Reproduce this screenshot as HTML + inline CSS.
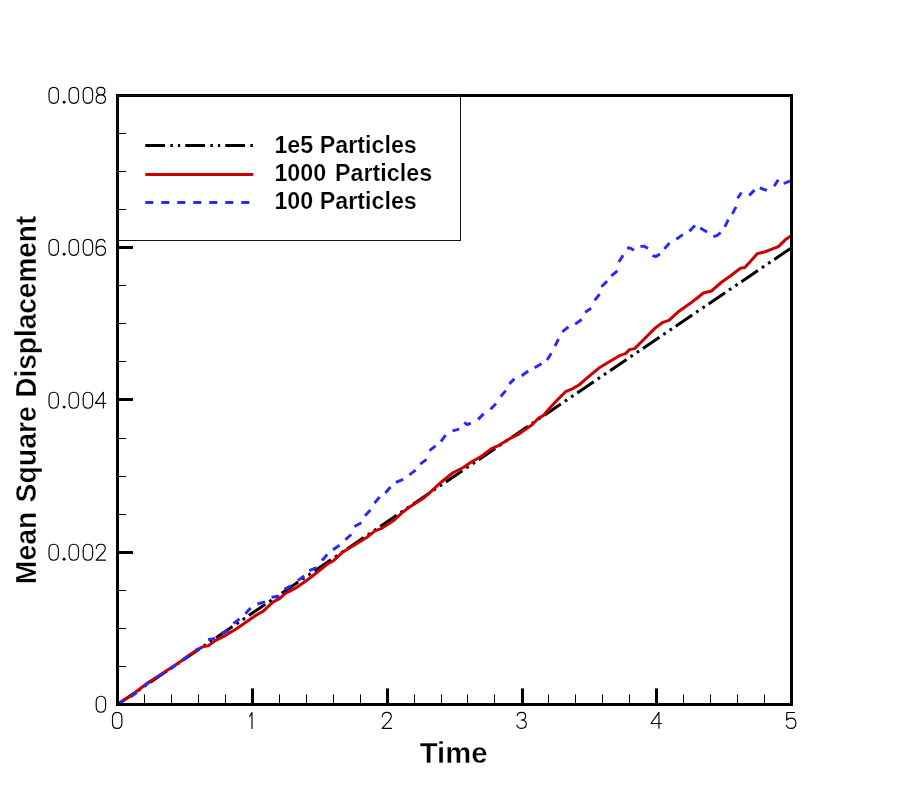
<!DOCTYPE html>
<html><head><meta charset="utf-8"><title>Mean Square Displacement</title>
<style>html,body{margin:0;padding:0;background:#fff;}svg{display:block;}text{font-family:"Liberation Sans",sans-serif;font-weight:bold;fill:#000;}</style></head>
<body>
<svg width="900" height="792" viewBox="0 0 900 792">
<rect width="900" height="792" fill="#fff"/>
<g fill="none" stroke-width="3" stroke-linejoin="round">
<line x1="117.5" y1="704.5" x2="790.5" y2="248.4" stroke="#000" stroke-dasharray="19.9 4.75 2.8 4.8 2.8 4.62"/>
<polyline stroke="#cc0000" points="117.5,704.5 131.7,695.0 148.3,682.5 165.0,671.7 181.7,660.8 190.0,654.5 198.6,649.0 203.4,646.5 208.3,645.7 215.7,640.4 224.2,636.1 236.5,628.8 248.7,620.2 256.0,615.3 263.3,611.1 273.1,601.9 279.2,598.8 285.4,593.3 295.1,588.4 308.3,579.2 320.0,570.0 328.3,563.3 333.3,560.8 343.3,551.7 353.3,545.8 366.7,537.5 375.0,530.8 381.7,528.3 393.3,520.8 403.3,511.7 410.0,506.7 423.3,498.3 431.7,490.8 441.7,481.7 453.3,472.5 463.3,467.5 471.7,461.7 480.5,456.9 491.1,448.9 498.9,445.3 510.0,438.5 518.9,434.1 526.7,428.6 532.2,424.8 538.9,417.8 543.3,415.6 550.0,407.8 557.8,399.4 565.6,391.7 572.2,388.9 579.0,385.0 587.1,377.9 599.2,367.8 609.3,361.7 619.4,355.7 625.5,353.6 629.5,349.6 634.6,348.6 644.7,338.5 654.8,328.4 662.9,322.3 668.9,320.3 679.0,311.2 689.2,304.1 697.2,298.0 703.3,293.0 711.4,291.0 721.8,282.0 730.7,275.8 740.4,268.2 744.8,267.5 750.1,261.7 757.2,253.7 764.3,252.0 771.3,249.3 778.4,246.6 785.5,239.6 790.5,236.2"/>
<path stroke="#2828ff" stroke-width="2.9" d="M118.3,703.6 L124.2,700.0 M130.8,696.7 L136.7,692.5 M144.2,685.8 L150.0,681.7 M156.7,677.5 L163.3,673.3 M170.0,669.2 L175.8,665.0 M182.5,660.0 L189.2,655.8 M195.5,650.4 L202.2,647.2 M208.0,639.6 L215.1,638.4 M221.3,633.3 L228.5,630.4 M233.4,623.3 L239.6,618.8 M245.4,613.7 L250.6,608.1 M257.4,604.0 L265.0,601.9 M271.6,597.2 L279.4,596.4 M284.2,589.3 L291.2,585.8 M297.8,580.6 L304.2,575.8 M309.3,570.7 L316.6,567.6 M322.0,560.5 L327.2,554.5 M333.0,549.7 L339.5,545.3 M345.4,539.7 L351.3,534.5 M354.5,526.5 L361.4,522.7 M365.0,515.8 L370.4,510.0 M374.5,503.0 L379.7,497.0 M385.3,493.0 L390.5,487.0 M395.9,482.4 L403.2,479.3 M409.4,474.9 L415.6,470.1 M420.2,464.1 L426.5,459.3 M429.4,450.7 L435.6,445.9 M440.9,441.5 L445.7,435.2 M452.5,430.8 L459.2,429.2 M464.2,422.3 L467.2,424.6 L470.8,423.2 M478.1,419.4 L483.6,413.9 M490.5,409.2 L496.0,403.7 M500.7,396.5 L505.8,390.6 M509.3,383.9 L514.3,378.9 M521.7,375.7 L528.2,371.0 M534.6,367.7 L541.5,363.8 M547.1,360.0 L551.3,353.3 M555.0,346.1 L558.5,339.0 M562.3,331.9 L568.4,326.9 M575.2,324.1 L581.7,319.5 M585.1,312.2 L591.1,308.2 M594.7,300.4 L599.6,294.2 M601.4,286.7 L607.1,281.1 M611.3,275.8 L617.4,270.8 M618.8,262.0 L623.1,255.3 M627.1,247.8 L630.5,248.3 L634.0,250.3 M640.4,246.4 L644.0,246.1 L648.0,248.5 M652.4,255.6 L656.0,256.5 L660.0,254.0 M664.4,248.9 L669.5,243.0 M676.3,239.2 L682.8,234.6 M689.4,231.1 L695.0,225.5 M700.2,227.9 L707.0,232.1 M713.3,236.7 L716.7,235.7 L720.7,232.7 M724.8,226.8 L728.3,219.7 M732.4,213.9 L736.0,206.9 M737.6,198.2 L741.4,192.5 M749.2,195.4 L754.5,190.1 M759.8,187.9 L766.9,190.4 M774.1,186.3 L778.3,179.7 M783.7,183.5 L790.6,180.9"/>
</g>
<g><rect x="144.0" y="694.4" width="1" height="10" fill="#000"/><rect x="171.0" y="694.4" width="1" height="10" fill="#000"/><rect x="198.0" y="694.4" width="1" height="10" fill="#000"/><rect x="225.0" y="694.4" width="1" height="10" fill="#000"/><rect x="251" y="688.4" width="3" height="16" fill="#000"/><rect x="279.0" y="694.4" width="1" height="10" fill="#000"/><rect x="306.0" y="694.4" width="1" height="10" fill="#000"/><rect x="333.0" y="694.4" width="1" height="10" fill="#000"/><rect x="360.0" y="694.4" width="1" height="10" fill="#000"/><rect x="386" y="688.4" width="3" height="16" fill="#000"/><rect x="414.0" y="694.4" width="1" height="10" fill="#000"/><rect x="441.0" y="694.4" width="1" height="10" fill="#000"/><rect x="467.0" y="694.4" width="1" height="10" fill="#000"/><rect x="494.0" y="694.4" width="1" height="10" fill="#000"/><rect x="521" y="688.4" width="3" height="16" fill="#000"/><rect x="548.0" y="694.4" width="1" height="10" fill="#000"/><rect x="575.0" y="694.4" width="1" height="10" fill="#000"/><rect x="602.0" y="694.4" width="1" height="10" fill="#000"/><rect x="629.0" y="694.4" width="1" height="10" fill="#000"/><rect x="655" y="688.4" width="3" height="16" fill="#000"/><rect x="683.0" y="694.4" width="1" height="10" fill="#000"/><rect x="710.0" y="694.4" width="1" height="10" fill="#000"/><rect x="737.0" y="694.4" width="1" height="10" fill="#000"/><rect x="764.0" y="694.4" width="1" height="10" fill="#000"/><rect x="118" y="666" width="8.2" height="1" fill="#000"/><rect x="118" y="628" width="8.2" height="1" fill="#000"/><rect x="118" y="590" width="8.2" height="1" fill="#000"/><rect x="118" y="551" width="15" height="3" fill="#000"/><rect x="118" y="514" width="8.2" height="1" fill="#000"/><rect x="118" y="476" width="8.2" height="1" fill="#000"/><rect x="118" y="438" width="8.2" height="1" fill="#000"/><rect x="118" y="398" width="15" height="3" fill="#000"/><rect x="118" y="361" width="8.2" height="1" fill="#000"/><rect x="118" y="323" width="8.2" height="1" fill="#000"/><rect x="118" y="285" width="8.2" height="1" fill="#000"/><rect x="118" y="246" width="15" height="3" fill="#000"/><rect x="118" y="209" width="8.2" height="1" fill="#000"/><rect x="118" y="171" width="8.2" height="1" fill="#000"/><rect x="118" y="133" width="8.2" height="1" fill="#000"/></g>
<rect x="117.5" y="95.5" width="674" height="609" fill="none" stroke="#000" stroke-width="3"/>
<rect x="117.5" y="95.5" width="343" height="145" fill="none" stroke="#111" stroke-width="1"/>
<g fill="none" stroke-width="3"><line x1="145.3" y1="145.5" x2="253.2" y2="145.5" stroke="#000" stroke-dasharray="19.8 5.2 2.6 5 2.3 5.1"/><line x1="145.3" y1="174.5" x2="253.2" y2="174.5" stroke="#cc0000"/><line x1="145.3" y1="202.5" x2="253.2" y2="202.5" stroke="#2828ff" stroke-dasharray="8 8"/></g>
<g font-size="23.6px" stroke="#fff" stroke-width="0.22" style="filter:grayscale(1)"><text transform="translate(274.4,153) scale(0.987,1)">1e5 Particles</text><text transform="translate(274.4,181) scale(0.987,1)">1000</text><text transform="translate(335.0,181) scale(0.987,1)">Particles</text><text transform="translate(274.4,209) scale(0.987,1)">100 Particles</text></g>
<g font-size="29.6px" stroke="#fff" stroke-width="0.35" style="filter:grayscale(1)"><text font-size="30px" transform="translate(419.7,763.4) scale(0.975,1)">Time</text>
<text transform="translate(36.4,584.2) rotate(-90) scale(0.959,1)">Mean</text>
<text transform="translate(36.4,502.4) rotate(-90) scale(0.959,1)">Square</text>
<text transform="translate(36.4,397.7) rotate(-90) scale(0.946,1)">Displacement</text>
</g>
<g fill="none" stroke="#000" stroke-width="1.15" stroke-linecap="round" stroke-linejoin="round">
<path transform="translate(48.5,86.8)" d="M0.5,6 C0.5,2.4 2.4,0.5 5.2,0.5 C8,0.5 9.9,2.4 9.9,6 L9.9,11 C9.9,14.6 8,16.5 5.2,16.5 C2.4,16.5 0.5,14.6 0.5,11 Z"/><circle cx="64.1" cy="102.2" r="1.45" fill="#000" stroke="none"/><path transform="translate(68.6,86.8)" d="M0.5,6 C0.5,2.4 2.4,0.5 5.2,0.5 C8,0.5 9.9,2.4 9.9,6 L9.9,11 C9.9,14.6 8,16.5 5.2,16.5 C2.4,16.5 0.5,14.6 0.5,11 Z"/><path transform="translate(82.7,86.8)" d="M0.5,6 C0.5,2.4 2.4,0.5 5.2,0.5 C8,0.5 9.9,2.4 9.9,6 L9.9,11 C9.9,14.6 8,16.5 5.2,16.5 C2.4,16.5 0.5,14.6 0.5,11 Z"/><path transform="translate(95.6,86.8)" d="M5.2,8 C2.6,8 1.1,6.4 1.1,4.2 C1.1,2 2.7,0.5 5.2,0.5 C7.7,0.5 9.3,2 9.3,4.2 C9.3,6.4 7.8,8 5.2,8 C2.3,8 0.5,9.7 0.5,12.2 C0.5,14.8 2.4,16.5 5.2,16.5 C8,16.5 9.9,14.8 9.9,12.2 C9.9,9.7 8.1,8 5.2,8 Z"/>
<path transform="translate(48.5,238.8)" d="M0.5,6 C0.5,2.4 2.4,0.5 5.2,0.5 C8,0.5 9.9,2.4 9.9,6 L9.9,11 C9.9,14.6 8,16.5 5.2,16.5 C2.4,16.5 0.5,14.6 0.5,11 Z"/><circle cx="64.1" cy="254.2" r="1.45" fill="#000" stroke="none"/><path transform="translate(68.6,238.8)" d="M0.5,6 C0.5,2.4 2.4,0.5 5.2,0.5 C8,0.5 9.9,2.4 9.9,6 L9.9,11 C9.9,14.6 8,16.5 5.2,16.5 C2.4,16.5 0.5,14.6 0.5,11 Z"/><path transform="translate(82.7,238.8)" d="M0.5,6 C0.5,2.4 2.4,0.5 5.2,0.5 C8,0.5 9.9,2.4 9.9,6 L9.9,11 C9.9,14.6 8,16.5 5.2,16.5 C2.4,16.5 0.5,14.6 0.5,11 Z"/><path transform="translate(95.6,238.8)" d="M9.4,3.4 C8.8,1.5 7.4,0.5 5.4,0.5 C2.4,0.5 0.5,3 0.5,8 L0.5,11.5 C0.5,14.7 2.4,16.5 5.2,16.5 C8,16.5 9.9,14.7 9.9,11.8 C9.9,9 8,7.3 5.3,7.3 C2.8,7.3 0.9,8.8 0.5,11"/>
<path transform="translate(48.5,391.7)" d="M0.5,6 C0.5,2.4 2.4,0.5 5.2,0.5 C8,0.5 9.9,2.4 9.9,6 L9.9,11 C9.9,14.6 8,16.5 5.2,16.5 C2.4,16.5 0.5,14.6 0.5,11 Z"/><circle cx="64.1" cy="407.1" r="1.45" fill="#000" stroke="none"/><path transform="translate(68.6,391.7)" d="M0.5,6 C0.5,2.4 2.4,0.5 5.2,0.5 C8,0.5 9.9,2.4 9.9,6 L9.9,11 C9.9,14.6 8,16.5 5.2,16.5 C2.4,16.5 0.5,14.6 0.5,11 Z"/><path transform="translate(82.7,391.7)" d="M0.5,6 C0.5,2.4 2.4,0.5 5.2,0.5 C8,0.5 9.9,2.4 9.9,6 L9.9,11 C9.9,14.6 8,16.5 5.2,16.5 C2.4,16.5 0.5,14.6 0.5,11 Z"/><path transform="translate(95.6,391.7)" d="M7.7,16.3 L7.7,0.5 L-0.2,11.6 L10.1,11.6"/>
<path transform="translate(48.5,543.8)" d="M0.5,6 C0.5,2.4 2.4,0.5 5.2,0.5 C8,0.5 9.9,2.4 9.9,6 L9.9,11 C9.9,14.6 8,16.5 5.2,16.5 C2.4,16.5 0.5,14.6 0.5,11 Z"/><circle cx="64.1" cy="559.2" r="1.45" fill="#000" stroke="none"/><path transform="translate(68.6,543.8)" d="M0.5,6 C0.5,2.4 2.4,0.5 5.2,0.5 C8,0.5 9.9,2.4 9.9,6 L9.9,11 C9.9,14.6 8,16.5 5.2,16.5 C2.4,16.5 0.5,14.6 0.5,11 Z"/><path transform="translate(82.7,543.8)" d="M0.5,6 C0.5,2.4 2.4,0.5 5.2,0.5 C8,0.5 9.9,2.4 9.9,6 L9.9,11 C9.9,14.6 8,16.5 5.2,16.5 C2.4,16.5 0.5,14.6 0.5,11 Z"/><path transform="translate(95.6,543.8)" d="M0.6,4.8 C0.8,2.2 2.6,0.5 5.2,0.5 C7.9,0.5 9.7,2.2 9.7,4.6 C9.7,6.4 8.8,7.6 7.2,9.2 L0.5,16.4 L9.9,16.4"/>
<path transform="translate(95.7,695.8)" d="M0.5,6 C0.5,2.4 2.4,0.5 5.2,0.5 C8,0.5 9.9,2.4 9.9,6 L9.9,11 C9.9,14.6 8,16.5 5.2,16.5 C2.4,16.5 0.5,14.6 0.5,11 Z"/>
<path transform="translate(112.0,711.9)" d="M0.5,6 C0.5,2.4 2.4,0.5 5.2,0.5 C8,0.5 9.9,2.4 9.9,6 L9.9,11 C9.9,14.6 8,16.5 5.2,16.5 C2.4,16.5 0.5,14.6 0.5,11 Z"/>
<path transform="translate(246.8,711.9)" d="M2.8,4.6 L5.2,0.6 L5.2,16.5"/>
<path transform="translate(381.6,711.9)" d="M0.6,4.8 C0.8,2.2 2.6,0.5 5.2,0.5 C7.9,0.5 9.7,2.2 9.7,4.6 C9.7,6.4 8.8,7.6 7.2,9.2 L0.5,16.4 L9.9,16.4"/>
<path transform="translate(516.4,711.9)" d="M0.8,3.8 C1.3,1.7 2.9,0.5 5.1,0.5 C7.6,0.5 9.2,2 9.2,4.3 C9.2,6.6 7.6,8.1 4.8,8.1 C7.9,8.1 9.9,9.7 9.9,12.2 C9.9,14.8 8,16.5 5.2,16.5 C2.7,16.5 1,15.2 0.5,13.2"/>
<path transform="translate(651.2,711.9)" d="M7.7,16.3 L7.7,0.5 L-0.2,11.6 L10.1,11.6"/>
<path transform="translate(786.0,711.9)" d="M8.6,0.6 L0.9,0.6 L0.6,8.2 C1.6,6.9 3.1,6.2 5,6.2 C8,6.2 9.9,8.3 9.9,11.3 C9.9,14.4 8,16.5 5.1,16.5 C2.7,16.5 1.1,15.3 0.5,13.4"/>
</g>
</svg>
</body></html>
